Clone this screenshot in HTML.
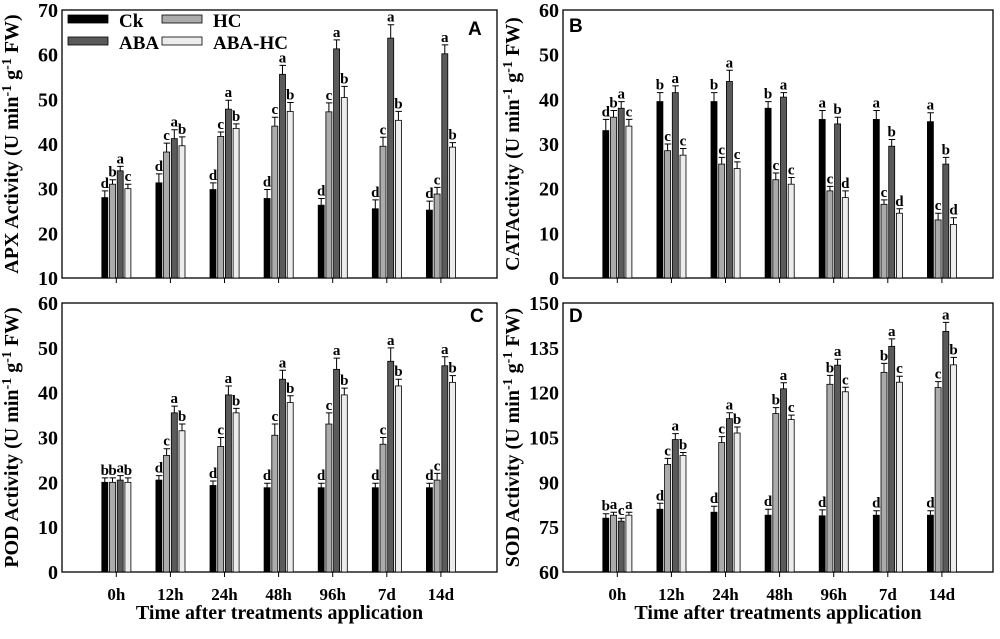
<!DOCTYPE html>
<html><head><meta charset="utf-8"><style>
body{margin:0;background:#fff;width:1000px;height:634px;overflow:hidden}
svg text{font-family:"Liberation Serif",serif;font-weight:bold;fill:#000}
</style></head><body>
<svg id="c" width="1000" height="634" xmlns="http://www.w3.org/2000/svg"></svg>
<script>
const categories=["0h","12h","24h","48h","96h","7d","14d"];
const seriesNames=["Ck","HC","ABA","ABA-HC"];
const apxCk=[28,31.3,29.8,27.8,26.3,25.5,25.2];
const apxHC=[31,38.2,41.7,44,47.2,39.5,28.8];
const apxABA=[34,41.2,47.8,55.6,61.3,63.7,60.2];
const apxABAHC=[30,39.6,43.5,47.3,50.4,45.3,39.3];
const apxErr=[[1.5,2,1.5,2,1.5,2,2],[1,2,1,2,2,2,1.5],[1,2,2,2,2,3,2],[1,2,1,2,2.5,2,1]];
const apxLetters=[["d","b","a","c"],["d","c","a","b"],["d","c","a","b"],["d","c","a","b"],["d","c","a","b"],["d","c","a","b"],["d","c","a","b"]];
const catCk=[33,39.5,39.5,38,35.5,35.5,35];
const catHC=[36,28.5,25.5,22,19.5,16.5,13];
const catABA=[38,41.5,44,40.5,34.5,29.5,25.5];
const catABAHC=[34,27.5,24.5,21,18,14.5,12];
const catErr=[[2.5,2,2,1.5,2,2,2],[1.5,1.5,1.5,1.5,1,1,1.5],[1.5,1.5,2.5,1,1.5,1.5,1.5],[1.5,1.5,1.5,1.5,1.5,1,1.5]];
const catLetters=[["d","b","a","c"],["b","c","a","c"],["b","c","a","c"],["b","c","a","c"],["a","c","b","d"],["a","c","b","d"],["a","c","b","d"]];
const podCk=[20,20.5,19.3,18.8,18.8,18.8,18.8];
const podHC=[20,26,28,30.5,33,28.5,20.5];
const podABA=[20.5,35.5,39.5,43,45.2,47,46];
const podABAHC=[20,31.5,35.5,37.8,39.5,41.5,42.3];
const podErr=[[1,1,1,1,1,1,1],[1,1.5,2,2.5,2.5,1.5,1.5],[1,1.5,2,2,2.5,3,2],[1,1.5,1,1.5,1.5,1.5,1.5]];
const podLetters=[["b","b","a","b"],["d","c","a","b"],["d","c","a","b"],["d","c","a","b"],["d","c","a","b"],["d","c","a","b"],["d","c","a","b"]];
const sodCk=[78,81,80,79,78.8,79,79];
const sodHC=[79,96,103.3,113,122.8,126.8,121.7];
const sodABA=[77,104.3,111.3,121.3,129.2,135.5,140.5];
const sodABAHC=[79,99,106.5,111,120.3,123.5,129.3];
const sodErr=[[1.5,2,2,2,2,1.5,1.5],[1,2,2,2,3,3,2],[1,2,2,2,2,2.5,3],[1,1,2,1.5,1.5,2,2.5]];
const sodLetters=[["b","a","c","a"],["d","c","a","b"],["d","c","a","b"],["d","b","a","c"],["d","b","a","c"],["d","b","a","c"],["d","c","a","b"]];
const apxTicks=[10,20,30,40,50,60,70];
const catTicks=[0,10,20,30,40,50,60];
const podTicks=[0,10,20,30,40,50,60];
const sodTicks=[60,75,90,105,120,135,150];

const NS="http://www.w3.org/2000/svg";
const svg=document.getElementById('c');
const fills=["#000","#ababab","#5a5a5a","#ececec"];
function mk(tag,attrs,parent){const e=document.createElementNS(NS,tag);for(const k in attrs)e.setAttribute(k,attrs[k]);(parent||svg).appendChild(e);return e;}
function panel(id,L,T,R,B,ticks,series,errs,letters,title,letter,lx,ly,xlabels){
  const g=mk('g',{});
  
  
  const ymin=ticks[0],ymax=ticks[ticks.length-1];
  const y=v=>B-(v-ymin)/(ymax-ymin)*(B-T);
  const step=54.1,x0=L+54.3;
  const xc=i=>x0+i*step;
  const frame=mk('rect',{x:L,y:T,width:R-L,height:B-T,fill:'none',stroke:'#000','stroke-width':1.3},g);
  
  
  ticks.forEach(t=>{
    const tl=mk('text',{x:L-4,y:y(t)+7,'text-anchor':'end','font-size':20},g);tl.textContent=t;
    
    
  });
  categories.forEach((c,i)=>{
    const tk=mk('line',{x1:xc(i),x2:xc(i),y1:B,y2:B+5,stroke:'#000','stroke-width':1},g);
    
    
    if(xlabels){const t=mk('text',{x:xc(i),y:B+28,'text-anchor':'middle','font-size':17},g);t.textContent=c;
      
      }
    series.forEach((s,j)=>{
      const bx=xc(i)-14.5+j*7.7, v=s[i];
      const r=mk('rect',{x:bx,y:y(v),width:6,height:B-y(v),fill:fills[j],stroke:'#000','stroke-width':0.8},g);
      
      
      const ye=y(v+errs[j][i]);
      const e=mk('path',{d:`M${bx+3},${y(v)}V${ye}M${bx},${ye}H${bx+6.5}`,stroke:'#000','stroke-width':1,fill:'none'},g);
      
      
      const lt=mk('text',{x:bx+3,y:ye-3,'text-anchor':'middle','font-size':15},g);lt.textContent=letters[i][j];
      
      
    });
  });
  const ty=(T+B)/2, tx=L-44;
  const tt=mk('text',{x:tx,y:ty,'text-anchor':'middle','font-size':20,transform:`rotate(-90 ${tx} ${ty})`},g);
  tt.innerHTML=title+' (U min<tspan dy="-7" font-size="14">-1</tspan><tspan dy="7"> g</tspan><tspan dy="-7" font-size="14">-1</tspan><tspan dy="7"> FW)</tspan>';
  
  
  const pl=mk('text',{x:lx,y:ly,'font-size':19,style:'font-family:"Liberation Sans",sans-serif'},g);pl.textContent=letter;
  
  
  if(xlabels){const xt=mk('text',{x:(L+R)/2,y:619,'text-anchor':'middle','font-size':20},g);xt.textContent='Time after treatments application';
    
    }
}
panel('a',62,10,497,278,apxTicks,[apxCk,apxHC,apxABA,apxABAHC],apxErr,apxLetters,'APX Activity','A',468,35,false);
panel('b',563,10,993,278,catTicks,[catCk,catHC,catABA,catABAHC],catErr,catLetters,'CATActivity','B',569,32,false);
panel('c',62,303,497,572,podTicks,[podCk,podHC,podABA,podABAHC],podErr,podLetters,'POD Activity','C',470,322,true);
panel('d',563,303,993,572,sodTicks,[sodCk,sodHC,sodABA,sodABAHC],sodErr,sodLetters,'SOD Activity','D',569,322,true);
const lg=mk('g',{});


const pos=[[68,15],[68,37],[162,15],[162,37]];
const order=[0,2,1,3];
order.forEach((si,k)=>{
  const [px,py]=pos[k];
  const sw=mk('rect',{x:px,y:py,width:40,height:8,fill:fills[si],stroke:'#000','stroke-width':0.8},lg);
  
  
  const t=mk('text',{x:px+51,y:py+12,'font-size':19},lg);t.textContent=seriesNames[si];
  
  
});
</script>
</body></html>
